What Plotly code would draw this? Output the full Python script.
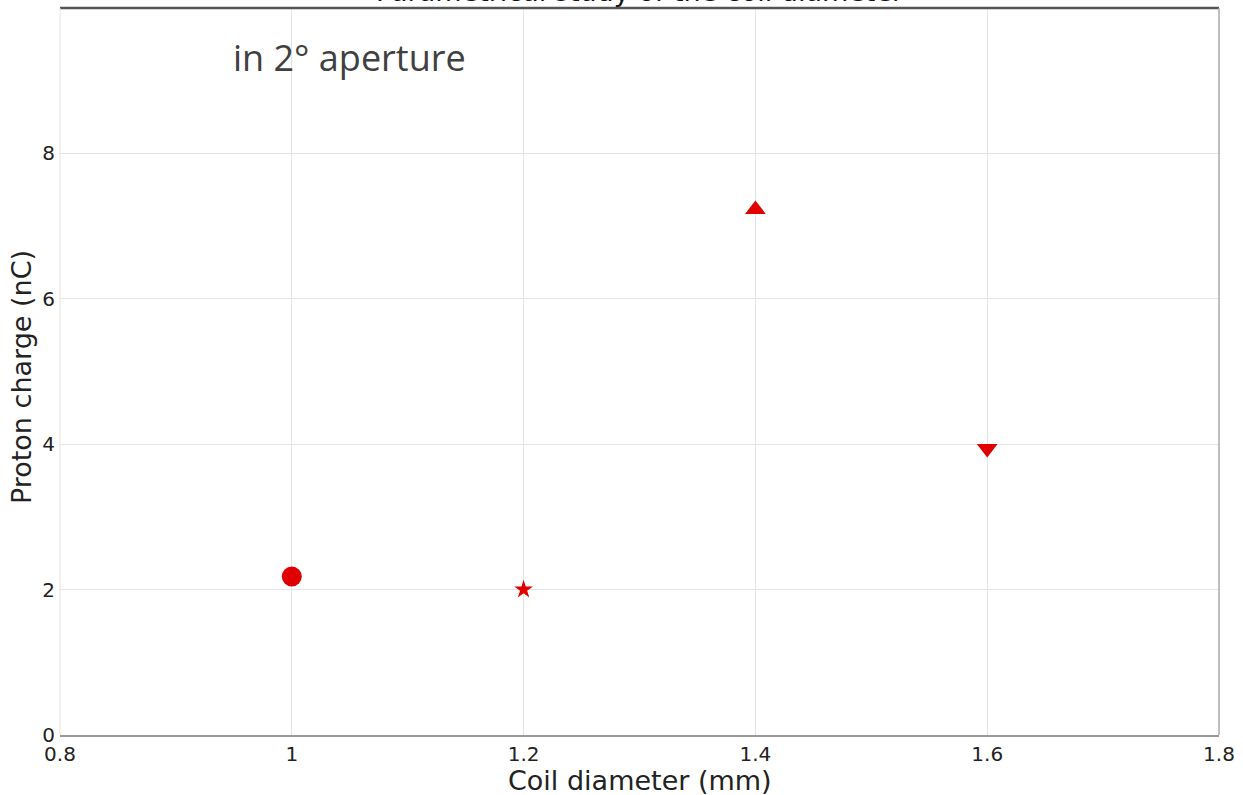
import plotly.graph_objects as go

# Coil diameter scan: proton charge collected in a 2° aperture
diameters = [1.0, 1.2, 1.4, 1.6]
charges = [2.18, 2.0, 7.23, 3.94]
symbols = ["circle", "star", "triangle-up", "triangle-down"]
sizes = [20, 14, 18, 18]

x_ticks = [0.8, 1.0, 1.2, 1.4, 1.6, 1.8]
x_labels = ["0.8", "1", "1.2", "1.4", "1.6", "1.8"]
y_ticks = [0, 2, 4, 6, 8]
y_labels = ["0", "2", "4", "6", "8"]

W, H = 1243, 795
L, R, T, B = 60, 21, 8, 60

fig = go.Figure()
for xv, yv, sym, sz in zip(diameters, charges, symbols, sizes):
    fig.add_trace(go.Scatter(
        x=[xv], y=[yv], mode="markers",
        marker=dict(symbol=sym, size=sz, color="#e00000", line=dict(width=0)),
        showlegend=False,
    ))

tick_font = dict(family="DejaVu Sans", size=20, color="#222222")
title_font = dict(family="DejaVu Sans", size=27, color="#222222")

fig.update_layout(
    width=W, height=H,
    margin=dict(l=L, r=R, t=T, b=B),
    paper_bgcolor="white", plot_bgcolor="white",
    xaxis=dict(
        range=[0.8, 1.8], tickvals=x_ticks, ticktext=x_labels,
        showgrid=True, gridcolor="#e4e4e4", gridwidth=1,
        zeroline=False, showline=True, linecolor="#999999", linewidth=2,
        ticks="", tickfont=tick_font, ticklabelstandoff=0,
    ),
    yaxis=dict(
        range=[0, 10], tickvals=y_ticks, ticktext=y_labels,
        showgrid=True, gridcolor="#e4e4e4", gridwidth=1,
        zeroline=False, showline=False,
        ticks="", tickfont=tick_font, ticklabelstandoff=4,
    ),
    shapes=[
        dict(type="line", xref="paper", yref="paper", x0=0, x1=1, y0=1, y1=1,
             line=dict(color="#555555", width=2.5)),
        dict(type="line", xref="paper", yref="paper", x0=1, x1=1, y0=0, y1=1,
             line=dict(color="#aaaaaa", width=1.5)),
        dict(type="line", xref="paper", yref="paper", x0=0, x1=0, y0=0, y1=1,
             line=dict(color="#e4e4e4", width=1)),
    ],
    annotations=[
        dict(text="Parametrical study of the coil diameter", xref="paper", yref="paper",
             x=0.5, y=1, xanchor="center", yanchor="bottom", yshift=-1,
             showarrow=False, font=dict(family="DejaVu Sans", size=27, color="#111111")),
        dict(text="in 2° aperture", xref="paper", yref="paper",
             x=(231 - L) / (W - L - R), y=(H - B - 58) / (H - B - T),
             xanchor="left", yanchor="middle", showarrow=False,
             font=dict(family="Open Sans", size=36, color="#404040")),
        dict(text="Coil diameter (mm)", xref="paper", yref="paper",
             x=0.5, y=-(780 - (H - B)) / (H - B - T), xanchor="center", yanchor="middle",
             showarrow=False, font=title_font),
        dict(text="Proton charge (nC)", xref="paper", yref="paper",
             x=-(L - 21) / (W - L - R), y=(H - B - 377) / (H - B - T),
             xanchor="center", yanchor="middle", textangle=-90,
             showarrow=False, font=title_font),
    ],
)

fig.write_html("out.html")
